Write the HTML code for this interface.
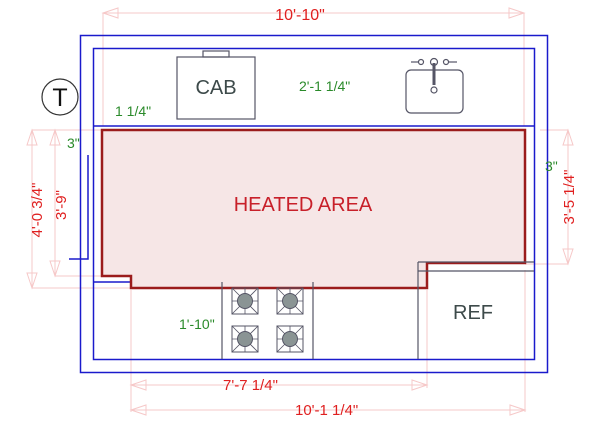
<!DOCTYPE html>
<html><head><style>body{margin:0;background:#fff}svg{display:block}</style></head><body>
<svg width="600" height="424" viewBox="0 0 600 424" xmlns="http://www.w3.org/2000/svg" font-family="Liberation Sans, sans-serif">
<defs>
<g id="burner"><rect x="0" y="0" width="26" height="26" fill="none" stroke="#556"/><line x1="0" y1="0" x2="26" y2="26" stroke="#556" stroke-width="0.8"/><line x1="26" y1="0" x2="0" y2="26" stroke="#556" stroke-width="0.8"/><line x1="13" y1="0" x2="13" y2="26" stroke="#556" stroke-width="0.8"/><line x1="0" y1="13" x2="26" y2="13" stroke="#556" stroke-width="0.8"/><circle cx="13" cy="13" r="7.5" fill="#8a9494" stroke="#556"/></g>
</defs>
<g stroke="#f6c8c8" stroke-width="1" fill="none">
<line x1="103" y1="13" x2="524" y2="13"/><line x1="103" y1="13" x2="103" y2="126"/><line x1="524" y1="13" x2="524" y2="126"/>
<line x1="131" y1="290" x2="131" y2="412"/><line x1="427" y1="290" x2="427" y2="388"/><line x1="525" y1="270" x2="525" y2="412"/>
<line x1="131" y1="385" x2="427" y2="385"/><line x1="131" y1="410" x2="525" y2="410"/>
<line x1="32" y1="130" x2="102" y2="130"/><line x1="32" y1="288" x2="130" y2="288"/><line x1="55" y1="276" x2="102" y2="276"/>
<line x1="32" y1="130" x2="32" y2="288"/><line x1="55" y1="130" x2="55" y2="276"/>
<line x1="568" y1="130" x2="568" y2="264"/><line x1="525" y1="264" x2="568" y2="264"/><line x1="540" y1="130" x2="568" y2="130"/>
<path d="M103,13 l15,-5 v10 z M524,13 l-15,-5 v10 z M131,385 l15,-5 v10 z M427,385 l-15,-5 v10 z M131,410 l15,-5 v10 z M525,410 l-15,-5 v10 z M32,130 l-5,15 h10 z M32,288 l-5,-15 h10 z M55,130 l-5,15 h10 z M55,276 l-5,-15 h10 z M568,130 l-5,15 h10 z M568,264 l-5,-15 h10 z"/>
</g>
<text x="300" y="20" fill="#e02020" font-size="16" text-anchor="middle">10'-10"</text>
<g stroke="#1a1acc" stroke-width="1.5" fill="none">
<rect x="80.5" y="35.5" width="467" height="337"/>
<rect x="93.5" y="48.5" width="441" height="311"/>
<line x1="93" y1="126" x2="534" y2="126"/>
<line x1="93" y1="282" x2="418" y2="282"/>
<polyline points="88,155 88,259 69,259"/>
</g>
<polygon points="102,130 525,130 525,263 427,263 427,288 131,288 131,276 102,276" fill="#f6e6e6" stroke="#9b1c1c" stroke-width="2.5"/>
<g stroke="#556" stroke-width="1.2" fill="none">
<rect x="177" y="57" width="78" height="62"/><rect x="203" y="51" width="26" height="6"/>
<rect x="406" y="70" width="57" height="43" rx="5"/>
<line x1="434" y1="63" x2="434" y2="85" stroke-width="3"/><circle cx="434" cy="62" r="3.5"/><circle cx="434" cy="90" r="3"/>
<circle cx="421" cy="62" r="2.5"/><circle cx="446" cy="62" r="2.5"/><line x1="411" y1="62" x2="419" y2="62"/><line x1="449" y1="62" x2="457" y2="62"/>
<line x1="222" y1="282" x2="222" y2="359"/><line x1="313" y1="282" x2="313" y2="359"/>
<line x1="418" y1="262" x2="418" y2="359"/><line x1="418" y1="262" x2="534" y2="262"/><line x1="418" y1="271" x2="534" y2="271"/>
</g>
<use href="#burner" x="232" y="288"/><use href="#burner" x="277" y="288"/>
<use href="#burner" x="232" y="326"/><use href="#burner" x="277" y="326"/>
<circle cx="60" cy="97" r="18" fill="none" stroke="#333" stroke-width="1.2"/>
<text x="60" y="106" font-size="25" text-anchor="middle" fill="#111">T</text>
<text x="216" y="94" font-size="20" text-anchor="middle" fill="#3d4a4a">CAB</text>
<text x="473" y="319" font-size="20" text-anchor="middle" fill="#3d4a4a">REF</text>
<text x="303" y="211" font-size="20" text-anchor="middle" fill="#c8202a">HEATED AREA</text>
<g fill="#2a8a2a" font-size="14">
<text x="115" y="116">1 1/4"</text>
<text x="299" y="91">2'-1 1/4"</text>
<text x="67" y="148">3"</text>
<text x="545" y="171">3"</text>
<text x="179" y="329">1'-10"</text>
</g>
<g fill="#e02020" font-size="15">
<text x="223" y="390">7'-7 1/4"</text>
<text x="295" y="415">10'-1 1/4"</text>
<text transform="translate(42,210) rotate(-90)" text-anchor="middle">4'-0 3/4"</text>
<text transform="translate(66,205) rotate(-90)" text-anchor="middle">3'-9"</text>
<text transform="translate(574,197) rotate(-90)" text-anchor="middle">3'-5 1/4"</text>
</g>
</svg>
</body></html>
